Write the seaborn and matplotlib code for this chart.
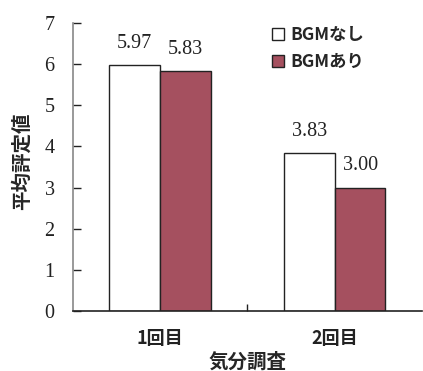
import matplotlib
matplotlib.use("Agg")
import matplotlib.pyplot as plt
import seaborn as sns
import pandas as pd

# data
categories = ["1回目", "2回目"]
groups = ["BGMなし", "BGMあり"]
values_nashi = [5.97, 3.83]
values_ari = [5.83, 3.00]
colors = ["#FFFFFF", "#A5505F"]

df = pd.DataFrame({
    "cat": categories * 2,
    "grp": [groups[0]] * 2 + [groups[1]] * 2,
    "val": values_nashi + values_ari,
})

sns.set_style("white")
jp = ["Noto Sans CJK JP", "DejaVu Sans"]
serif = ["Liberation Serif", "DejaVu Serif"]

fig, ax = plt.subplots(figsize=(4.23, 3.71), dpi=100)
fig.subplots_adjust(left=0.172, right=0.998, top=0.938, bottom=0.162)

sns.barplot(data=df, x="cat", y="val", hue="grp", hue_order=groups,
            palette=colors, width=0.58, gap=0, edgecolor="#222222",
            linewidth=1.0, saturation=1, ax=ax)

for cont in ax.containers:
    ax.bar_label(cont, fmt="%.2f", padding=9, fontsize=14.5,
                 family=serif, color="#222222")

ax.set_ylim(0, 7)
ax.set_xlim(-0.5, 1.5)
ax.set_yticks(range(8))
ax.set_yticklabels([str(i) for i in range(8)], family=serif, fontsize=14.5,
                   color="#222222")
ax.tick_params(axis="y", direction="in", length=6, width=1, color="#222222",
               left=True, pad=13)
ax.set_xticks([0, 1])
ax.set_xticklabels(categories, family=jp, fontweight="bold", fontsize=13,
                   color="#222222")
ax.tick_params(axis="x", length=0, pad=13)
ax.set_xticks([0.5], minor=True)
ax.tick_params(axis="x", which="minor", direction="in", length=5, width=1,
               color="#222222", bottom=True)

ax.set_xlabel("気分調査", family=jp, fontweight="bold", fontsize=14,
              labelpad=3)
ax.set_ylabel("平均評定値", family=jp, fontweight="bold", fontsize=14)
ax.yaxis.set_label_coords(-0.117, 0.52)

for s in ["top", "right"]:
    ax.spines[s].set_visible(False)
ax.spines["left"].set_color("#888888")
ax.spines["left"].set_linewidth(1.2)
ax.spines["bottom"].set_color("#222222")
ax.spines["bottom"].set_linewidth(1.2)

leg = ax.legend(loc="upper left", bbox_to_anchor=(0.525, 1.045), frameon=False,
                handlelength=0.7, handleheight=0.7, handletextpad=0.35,
                labelspacing=0.55, prop={"family": jp, "size": 12.5,
                                         "weight": "bold"})
for h in leg.legend_handles:
    h.set_edgecolor("#222222")
    h.set_linewidth(1.0)

fig.savefig("out.png", dpi=100)
